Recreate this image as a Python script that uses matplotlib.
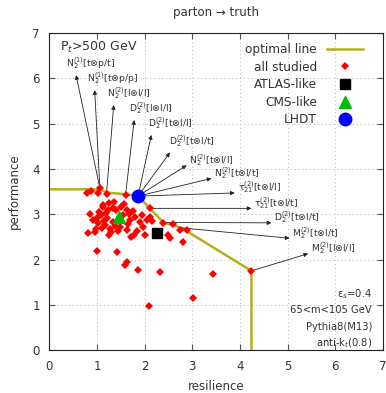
import matplotlib
matplotlib.use("Agg")
import matplotlib.pyplot as plt
from matplotlib.lines import Line2D

# ---------------- data ----------------
# optimal (Pareto) line
opt_x = [0.0, 1.06, 1.2, 1.6, 1.86, 2.11, 2.39, 2.77, 4.24, 4.24]
opt_y = [3.55, 3.55, 3.48, 3.44, 3.40, 3.13, 2.82, 2.70, 1.75, 0.0]

# all studied observables
all_x = [0.78, 0.88, 1.06, 1.2, 1.6, 2.11, 1.13, 1.23, 1.34, 1.51, 1.62, 1.76,
         1.09, 1.2, 0.91, 1.02, 1.16, 1.34, 1.69, 1.79, 1.9, 1.97, 1.48, 1.62,
         1.3, 0.81, 0.95, 1.72, 1.78, 2.0, 2.39, 2.49, 2.74, 2.88, 2.8, 0.99,
         1.42, 1.62, 1.58, 1.86, 2.32, 3.43, 3.01, 2.09, 4.24, 1.26, 1.36, 1.56,
         1.55, 1.40, 1.18, 1.05, 0.86, 1.10, 1.28, 1.45, 1.67, 1.84, 2.05, 2.12,
         1.00, 1.15, 1.38, 1.25, 2.53, 1.95, 2.60, 0.98, 1.12, 2.15, 1.66, 1.02]
all_y = [3.46, 3.51, 3.57, 3.44, 3.42, 3.13, 3.20, 3.09, 3.13, 3.16, 3.09, 3.07,
         2.98, 2.91, 2.87, 2.80, 2.76, 2.83, 2.87, 2.94, 2.83, 2.72, 2.72, 2.65,
         2.61, 2.58, 2.61, 2.50, 2.55, 2.55, 2.80, 2.54, 2.65, 2.65, 2.39, 2.19,
         2.16, 1.94, 1.88, 1.78, 1.73, 1.68, 1.15, 0.97, 1.75, 3.24, 3.27, 3.22,
         2.98, 3.10, 3.02, 3.06, 3.00, 2.70, 2.68, 2.62, 3.00, 2.62, 2.87, 2.93,
         2.92, 2.85, 2.74, 2.55, 2.47, 2.99, 2.78, 2.68, 3.17, 2.85, 2.78, 3.47]

atlas_x, atlas_y = [2.25], [2.58]
cms_x, cms_y = [1.46], [2.94]
lhdt_x, lhdt_y = [1.86], [3.40]

# labelled observables: arrow source (on frontier) and arrow tip
obs_labels = [r"N$_2^{(1)}$[t⊗p/t]", r"N$_2^{(1)}$[t⊗p/p]", r"N$_2^{(2)}$[l⊗l/l]",
              r"D$_2^{(2)}$[l⊗l/l]", r"D$_2^{(2)}$[t⊗l/l]", r"D$_2^{(2)}$[t⊗l/t]",
              r"N$_2^{(2)}$[t⊗l/l]", r"N$_2^{(2)}$[t⊗l/t]", r"τ$_{21}^{(2)}$[t⊗l/l]",
              r"τ$_{21}^{(2)}$[t⊗l/t]", r"D$_2^{(2)}$[t⊗l/t]", r"M$_2^{(2)}$[t⊗l/t]",
              r"M$_2^{(2)}$[l⊗l/l]"]
src_x = [1.06, 1.06, 1.2, 1.6, 1.86, 1.86, 1.86, 1.86, 1.86, 2.11, 2.39, 2.77, 4.24]
src_y = [3.57, 3.57, 3.48, 3.44, 3.40, 3.40, 3.40, 3.40, 3.40, 3.13, 2.82, 2.70, 1.75]
tip_x = [0.56, 0.95, 1.35, 1.78, 2.14, 2.53, 2.88, 3.40, 3.89, 4.24, 4.66, 5.04, 5.43]
tip_y = [6.07, 5.74, 5.41, 5.08, 4.75, 4.36, 4.08, 3.79, 3.47, 3.13, 2.81, 2.47, 2.13]

x_ticks = [0, 1, 2, 3, 4, 5, 6, 7]
y_ticks = [0, 1, 2, 3, 4, 5, 6, 7]

info_lines = ["ε$_s$=0.4", "65<m<105 GeV", "Pythia8(M13)", "anti-k$_t$(0.8)"]

# ---------------- style ----------------
plt.rcParams['font.family'] = ['DejaVu Sans']
plt.rcParams['mathtext.fontset'] = 'dejavusans'
TXT = '#333333'
OLIVE = '#b4b01c'

fig = plt.figure(figsize=(3.86, 3.93), dpi=100)
ax = fig.add_axes([0.128, 0.109, 0.864, 0.807])

ax.set_xlim(0, 7)
ax.set_ylim(0, 7)
ax.set_xticks(x_ticks)
ax.set_yticks(y_ticks)
ax.tick_params(direction='in', top=True, right=True, length=4, width=0.8,
               labelsize=8.5, colors='#555555', labelcolor=TXT, pad=7)
ax.grid(True, linestyle=(0, (1, 3)), color='#b5b5b5', linewidth=0.7)
for s in ax.spines.values():
    s.set_linewidth(0.8)
    s.set_color('#222222')

ax.plot(opt_x, opt_y, color=OLIVE, lw=1.8, zorder=2)

for sx, sy, tx, ty in zip(src_x, src_y, tip_x, tip_y):
    ax.annotate("", xy=(tx, ty), xytext=(sx, sy),
                arrowprops=dict(arrowstyle='-|>', color='#222222', lw=0.6,
                                mutation_scale=6, shrinkA=0, shrinkB=0), zorder=3)

for i, (lab, tx, ty) in enumerate(zip(obs_labels, tip_x, tip_y)):
    if i < 6:
        off = (-7 + 1.2 * i, 8.5)
    else:
        off = (2, 4)
    ax.annotate(lab, xy=(tx, ty), xytext=off, textcoords='offset points',
                fontsize=6.7, color=TXT, ha='left', va='center', zorder=5)

ax.plot(all_x, all_y, 'D', color='#ff0000', ms=4.2, mew=0, zorder=4)
ax.plot(atlas_x, atlas_y, 's', color='black', ms=7, zorder=6)
ax.plot(cms_x, cms_y, '^', color='#00bb00', ms=9, zorder=6)
ax.plot(lhdt_x, lhdt_y, 'o', color='#0000ff', ms=9, zorder=6)

handles = [Line2D([], [], color=OLIVE, lw=1.8),
           Line2D([], [], marker='D', color='#ff0000', ls='', ms=4.2, mew=0),
           Line2D([], [], marker='s', color='black', ls='', ms=7),
           Line2D([], [], marker='^', color='#00bb00', ls='', ms=9),
           Line2D([], [], marker='o', color='#0000ff', ls='', ms=9)]
names = ["optimal line", "all studied", "ATLAS-like", "CMS-like", "LHDT"]
leg = ax.legend(handles, names, loc='upper right', bbox_to_anchor=(0.965, 0.995),
                frameon=False, markerfirst=False, fontsize=8.7, handlelength=3.0,
                handletextpad=0.8, labelspacing=0.38, borderpad=0.2)
for t in leg.get_texts():
    t.set_color(TXT)

ax.text(0.033, 0.955, "P$_t$>500 GeV", transform=ax.transAxes, fontsize=9,
        color=TXT, ha='left', va='center')

for k, line in enumerate(info_lines):
    ax.text(0.967, 0.178 - k * 0.052, line, transform=ax.transAxes, fontsize=7.2,
            color=TXT, ha='right', va='center')

ax.set_xlabel("resilience", fontsize=8.5, color=TXT, labelpad=5)
ax.set_ylabel("performance", fontsize=8.5, color=TXT, labelpad=8)
ax.set_title("parton → truth", fontsize=8.5, color=TXT, pad=12)

fig.savefig("out.png", dpi=100)
